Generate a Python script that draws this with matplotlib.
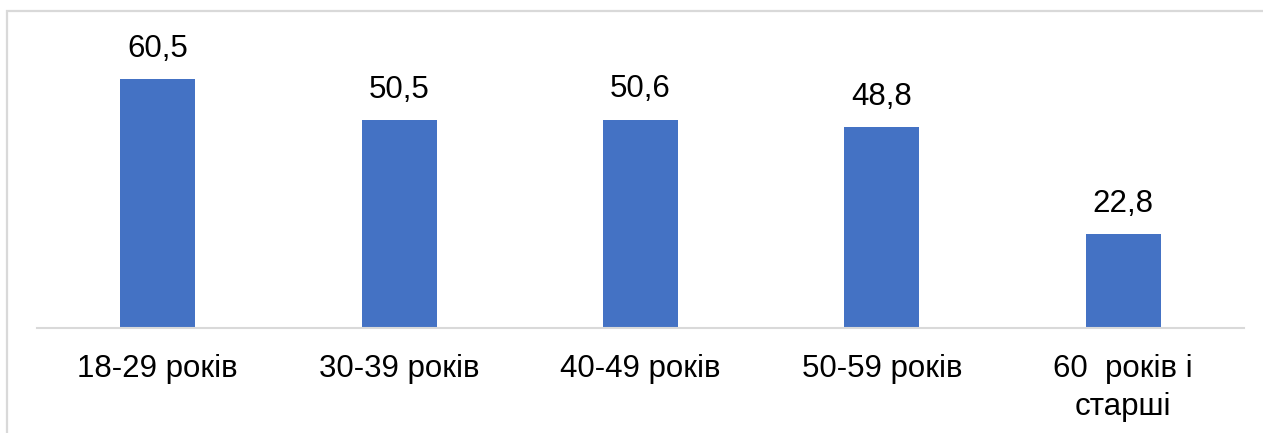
import matplotlib
matplotlib.use("Agg")
from matplotlib import pyplot as plt
from matplotlib.patches import Rectangle

categories = ["18-29 років", "30-39 років", "40-49 років", "50-59 років", "60  років і\nстарші"]
values = [60.5, 50.5, 50.6, 48.8, 22.8]
value_labels = ["60,5", "50,5", "50,6", "48,8", "22,8"]

plt.rcParams['font.family'] = ['Liberation Sans', 'DejaVu Sans']

W, H = 1263, 433
fig = plt.figure(figsize=(W / 100, H / 100), dpi=100)

# outer chart frame (cut off at right and bottom in the original)
frame = Rectangle((7 / W, -0.2), 1.3, (H - 11) / H + 0.2, transform=fig.transFigure,
                  fill=False, edgecolor="#d9d9d9", linewidth=1.6, clip_on=False)
fig.patches.append(frame)

ax = fig.add_axes([37 / W, (H - 328) / H, (1244 - 37) / W, (328 - 20) / H])
x = list(range(len(categories)))
bars = ax.bar(x, values, width=0.31, color="#4472c4")

ax.set_xlim(-0.5, len(categories) - 0.5)
ax.set_ylim(0, 74.8)

for b, lab in zip(bars, value_labels):
    ax.annotate(lab, (b.get_x() + b.get_width() / 2, b.get_height()),
                xytext=(0, 11), textcoords="offset points",
                ha="center", va="bottom", fontsize=22.5, color="#000000")

ax.set_xticks(x)
ax.set_xticklabels(categories, fontsize=22.5, linespacing=1.35)
ax.tick_params(axis="x", length=0, pad=19)
ax.set_yticks([])

for s in ["top", "right", "left"]:
    ax.spines[s].set_visible(False)
ax.spines["bottom"].set_color("#d9d9d9")
ax.spines["bottom"].set_linewidth(1.5)

fig.savefig("out.png", dpi=100)
